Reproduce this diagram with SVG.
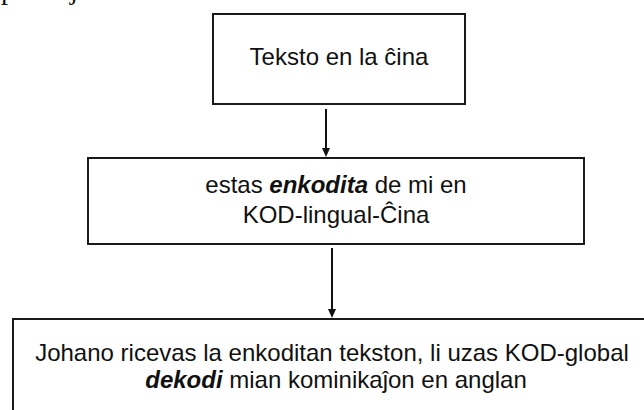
<svg xmlns="http://www.w3.org/2000/svg" width="644" height="410" viewBox="0 0 644 410">
  <style>
    .box { fill: #ffffff; stroke: #1a1a1a; stroke-width: 2; }
    .lbl { font-family: "Liberation Sans", Arial, sans-serif; font-size: 24px; fill: #111111; text-anchor: middle; }
    .em { font-weight: bold; font-style: italic; }
    .frag { font-family: "Liberation Serif", "Times New Roman", serif; font-size: 28px; fill: #111111; }
    .conn { stroke: #111111; stroke-width: 2; fill: none; }
    .head { fill: #111111; }
  </style>
  <rect width="644" height="410" fill="#ffffff"/>
  <g id="fragments">
    <text class="frag" x="1" y="-1">p</text>
    <text class="frag" x="70" y="-1">j</text>
  </g>
  <g id="connectors">
    <path class="conn" d="M326,109 V148" />
    <path class="head" d="M322,148 L330,148 L326,157 Z"/>
    <path class="conn" d="M332,248 V309" />
    <path class="head" d="M328,309 L336,309 L332,318 Z"/>
  </g>
  <g id="node1">
    <rect class="box" x="213" y="14" width="252" height="90"/>
    <text class="lbl" x="339" y="65">Teksto en la ĉina</text>
  </g>
  <g id="node2">
    <rect class="box" x="88" y="158" width="496" height="86"/>
    <text class="lbl" x="336" y="193">estas <tspan class="em">enkodita</tspan> de mi en</text>
    <text class="lbl" x="336" y="223">KOD-lingual-Ĉina</text>
  </g>
  <g id="node3">
    <rect class="box" x="13" y="319" width="650" height="110"/>
    <text class="lbl" x="332" y="361">Johano ricevas la enkoditan tekston, li uzas KOD-global</text>
    <text class="lbl" x="336" y="388"><tspan class="em">dekodi</tspan> mian kominikaĵon en anglan</text>
  </g>
</svg>
